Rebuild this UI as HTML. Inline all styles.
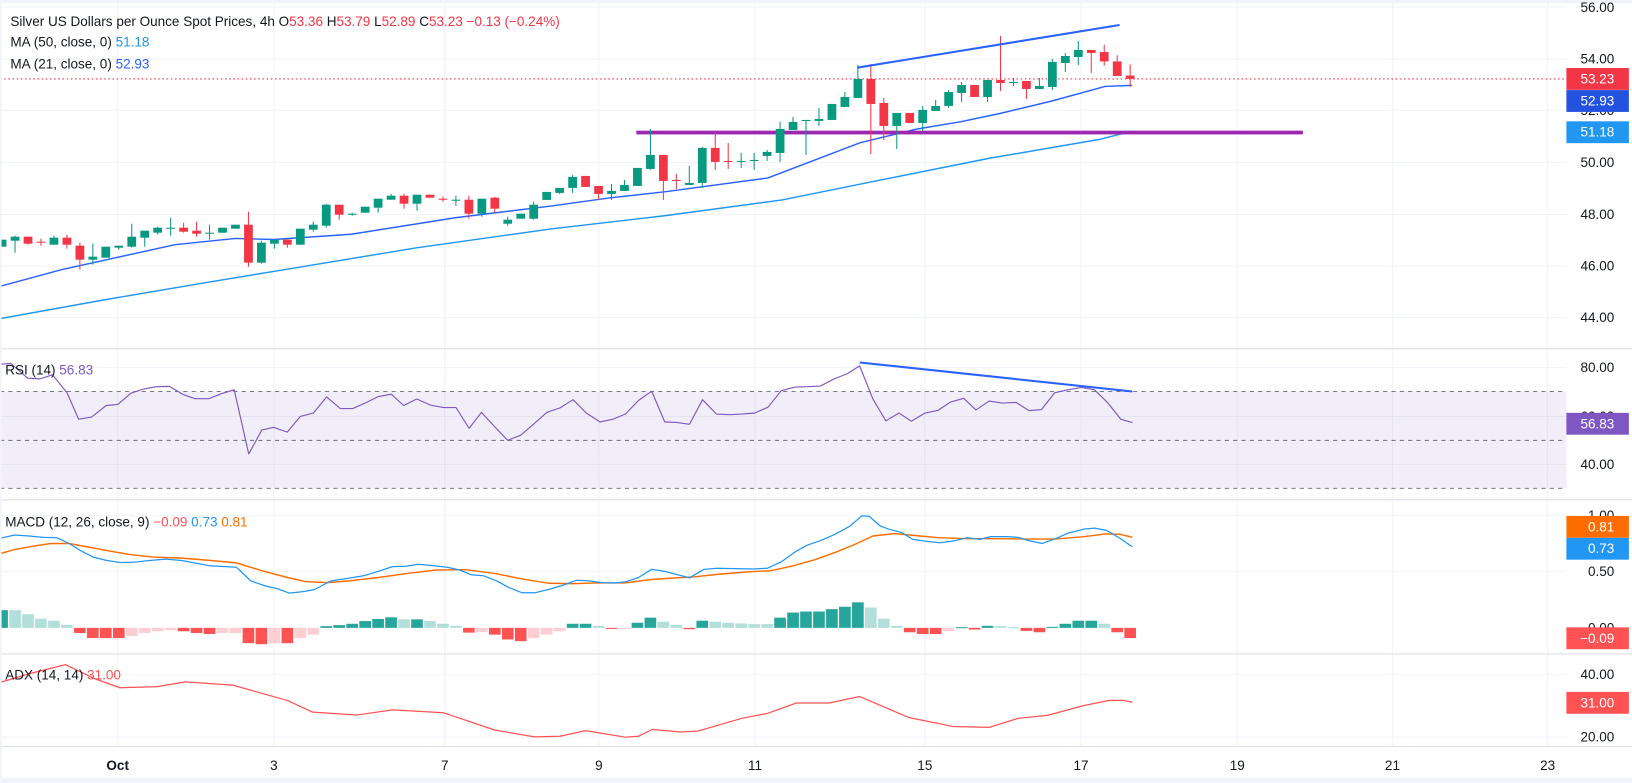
<!DOCTYPE html>
<html><head><meta charset="utf-8">
<style>
html,body{margin:0;padding:0;background:#fff;}
svg{display:block;}
text{font-family:"Liberation Sans",sans-serif;}
</style></head>
<body>
<svg id="c" width="1632" height="783" viewBox="0 0 1567 752" preserveAspectRatio="none" xmlns="http://www.w3.org/2000/svg">
<rect x="0" y="0" width="1567" height="752" fill="#fff"/>
<g id="grid" stroke="#f0f3fa" stroke-width="1"></g>
<!-- RSI band -->
<rect x="0" y="376" width="1504" height="93" fill="#7e57c2" fill-opacity="0.1"/>
<g stroke="#787b86" stroke-width="1" stroke-dasharray="4,4">
<line x1="0" y1="376" x2="1504" y2="376"/>
<line x1="0" y1="423" x2="1504" y2="423"/>
<line x1="0" y1="469" x2="1504" y2="469"/>
</g>
<!-- pane separators -->
<g stroke="#e0e3eb" stroke-width="1.2">
<line x1="0" y1="335" x2="1567" y2="335"/>
<line x1="0" y1="480" x2="1567" y2="480"/>
<line x1="0" y1="628" x2="1567" y2="628"/>
<line x1="0" y1="717" x2="1567" y2="717"/>
</g>
<g id="main"></g>
<g id="ind"></g>
<!-- frame -->
<rect x="0" y="0" width="1567" height="3" fill="#f0f3fa"/>
<rect x="0" y="747" width="1567" height="5" fill="#f0f3fa"/>
<rect x="0" y="0" width="1.5" height="752" fill="#f0f3fa"/>
<g id="txt"></g>
</svg>
<script>
var NS="http://www.w3.org/2000/svg";
function el(p,t,a,txt){var e=document.createElementNS(NS,t);for(var k in a)e.setAttribute(k,a[k]);if(txt!==undefined)e.textContent=txt;document.getElementById(p).appendChild(e);return e;}
// grid
var vx=[113,263,427,575,725,888,1038,1188,1337,1486];
vx.forEach(function(x){el('grid','line',{x1:x,y1:3,x2:x,y2:717});});
[7,56.7,106,156,206,255.5,305, 353,400,446, 495,549, 648,708].forEach(function(y){el('grid','line',{x1:0,y1:y,x2:1504,y2:y});});
// candles
var G="#089981",R="#f23645";
var z1=[[240,247,240,247,'g'],[237,241,236,253,'g'],[237,244,237,245,'r'],[242,243,239,246,'r'],[238,245,236,245,'g'],[238,245,235,249,'r'],[246,260,243,270,'r'],[257,260,244,265,'g'],[247,258,247,258,'g'],[246,248,246,250,'g'],[237,247,224,248,'g'],[231,238,231,247,'g'],[228,233,227,235,'g'],[228,228,218,236,'g'],[228,232,223,233,'r'],[231,234,222,237,'r'],[233,233,225,240,'g'],[228,233,228,233,'g'],[225,229,225,229,'g'],[225,263,212,267,'r'],[243,263,241,264,'g'],[240,244,240,249,'g'],[240,245,240,248,'r'],[229,245,229,245,'g'],[225,230,222,232,'g'],[205,226,204,228,'g'],[205,215,205,220,'r'],[214,214,213,216,'g'],[207,213,207,213,'g'],[199,208,199,213,'g'],[196,200,194,200,'g'],[196,204,194,209,'r'],[195,204,195,211,'g'],[195,198,195,198,'r'],[199,199,197,202,'r'],[200,200,196,206,'g'],[200,214,196,219,'r'],[199,214,199,217,'g'],[198,209,197,213,'r'],[220,224,217,226,'g'],[214,219,214,219,'g'],[205,219,202,220,'g']];
var z2=[[192,200,192,200,'g'],[188,193,188,194,'g'],[177,188,175,193,'g'],[176,187,176,187,'r'],[186,194,186,200,'r'],[191,194,184,200,'g'],[185,191,180,191,'g'],[168,186,168,186,'g'],[155,169,129,170,'g'],[155,181,155,200,'r'],[180,180,174,189,'r'],[183,185,166,185,'g'],[148,183,147,188,'g'],[148,162,132,170,'r'],[161,161,143,169,'r'],[161,161,153,168,'g'],[160,160,153,170,'g'],[152,156,150,161,'g'],[129,153,122,162,'g'],[122,130,117,130,'g'],[120,120,120,155,'g'],[119,121,108,126,'g'],[104,120,104,120,'g'],[97,107,92,107,'g'],[79,98,65,98,'g'],[79,104,64,154,'r'],[103,126,98,140,'r'],[113,126,113,149,'g'],[113,123,113,123,'r'],[110,123,106,131,'g'],[106,111,100,111,'g'],[92,106,90,108,'g'],[85,93,82,102,'g'],[85,97,85,97,'r'],[80,97,80,102,'g'],[80,83,36,91,'r'],[82,82,78,86,'g'],[81,89,81,99,'r'],[86,89,78,89,'g'],[62,87,59,90,'g'],[56,63,53,72,'g'],[50,57,41,65,'g'],[50,53,50,73,'r']];
var C=[];
z1.forEach(function(c){C.push([163+0.96*(c[0]-170),163+0.96*(c[1]-170),163+0.96*(c[2]-170),163+0.96*(c[3]-170),c[4]]);});
z2.forEach(function(c){C.push([19.2+0.96*(c[0]-20),19.2+0.96*(c[1]-20),19.2+0.96*(c[2]-20),19.2+0.96*(c[3]-20),c[4]]);});
C.push([50,59,43,63,'r']);C.push([59,73,53,73,'r']);C.push([72.6,75.8,61.9,83.4,'r']);
// MAs
function pl(p,pts,col,w,extra){var a={points:pts.map(function(q){return q.join(',')}).join(' '),fill:'none',stroke:col,'stroke-width':w,'stroke-linejoin':'round'};for(var k in extra)a[k]=extra[k];el(p,'polyline',a);}
pl('main',[[0,306],[100,288],[200,271],[273,259],[400,238],[528,220],[640,207],[751,192],[850,172],[950,152],[1055,134],[1087,126]],'#2196f3',1.4);
pl('main',[[0,275],[59,259],[168,235],[226,229],[263,230],[337,225],[438,209],[528,198],[586,190],[640,184],[737,171],[826,137],[880,124],[922,117],[960,109],[1010,97],[1061,83],[1087,82]],'#2962ff',1.4);
// purple support
el('main','rect',{x:611,y:125.5,width:640,height:3.6,fill:'#9c27b0'});
// red dotted
el('main','line',{x1:0,y1:75.8,x2:1504,y2:75.8,stroke:'#f23645','stroke-width':1,'stroke-dasharray':'1.5,2.5'});
C.forEach(function(c,i){var x=2+i*12.45;var col=c[4]=='g'?G:R;
 el('main','line',{x1:x,y1:c[2],x2:x,y2:c[3],stroke:col,'stroke-width':1});
 var h=Math.max(1,c[1]-c[0]);el('main','rect',{x:x-4.2,y:c[0],width:8.4,height:h,fill:col});});
// resistance line
el('main','line',{x1:823,y1:65,x2:1075,y2:24,stroke:'#2962ff','stroke-width':2});
// RSI
function tx(zx){return zx/1.432;}
var rsi=[[0,47],[15,45],[38,88],[55,90],[72,78],[92,130],[108,208],[126,202],[146,168],[162,165],[180,132],[197,120],[215,113],[233,112],[252,136],[268,148],[287,148],[305,133],[322,122],[342,310],[360,240],[376,232],[395,246],[413,200],[431,190],[449,143],[468,177],[485,177],[503,160],[520,142],[538,135],[555,168],[573,149],[592,167],[610,174],[627,174],[645,235],[662,188],[680,230],[698,270],[716,255],[734,222],[752,188],[770,175],[788,151],[806,190],[825,216],[843,208],[860,193],[878,153],[896,126],[914,216],[932,218],[948,223],[966,151],[985,193],[1003,195],[1020,193],[1038,190],[1056,173],[1074,125],[1093,114],[1110,113],[1128,111],[1147,90],[1165,75],[1182,52],[1200,148],[1218,213],[1236,190],[1253,214],[1272,190],[1290,182],[1307,158],[1325,147],[1342,181],[1360,155],[1378,161],[1397,159],[1415,183],[1432,180],[1450,131],[1468,122],[1487,115],[1505,122],[1523,160],[1541,208],[1557,218]];
pl('ind',rsi.map(function(q){return [tx(q[0]),376+(q[1]-127)/3.05];}),'#7e57c2',1.1);
el('ind','line',{x1:tx(1182),y1:376+(42-127)/3.05,x2:tx(1557),y2:376+(127-127)/3.05,stroke:'#2962ff','stroke-width':2});
// MACD
function my(zy){return 603+(zy-378)/3.06;}
var hist=[[326,'G'],[326,'g'],[338,'g'],[351,'g'],[357,'g'],[369,'g'],[393,'R'],[408,'R'],[408,'R'],[408,'R'],[402,'p'],[393,'p'],[388,'p'],[385,'p'],[388,'R'],[393,'R'],[396,'R'],[393,'p'],[393,'p'],[423,'R'],[426,'R'],[423,'p'],[423,'R'],[408,'p'],[398,'p'],[373,'G'],[370,'G'],[366,'G'],[358,'G'],[352,'G'],[347,'G'],[353,'g'],[353,'G'],[358,'g'],[366,'g'],[372,'g'],[392,'R'],[390,'p'],[398,'R'],[412,'R'],[417,'R'],[408,'p'],[398,'p'],[388,'p'],[366,'G'],[366,'G'],[372,'g'],[381,'R'],[380,'p'],[363,'G'],[348,'G'],[360,'g'],[369,'g'],[382,'R'],[357,'G'],[360,'g'],[363,'g'],[365,'g'],[367,'g'],[367,'g'],[348,'G'],[333,'G'],[330,'G'],[330,'G'],[323,'G'],[316,'G'],[303,'G'],[318,'g'],[351,'g'],[372,'g'],[391,'R'],[396,'R'],[396,'R'],[388,'p'],[376,'G'],[383,'R'],[372,'G'],[373,'g'],[376,'g'],[387,'R'],[391,'R'],[375,'G'],[366,'G'],[357,'G'],[357,'G'],[366,'g'],[391,'R'],[408,'R']];
var hc={G:'#26a69a',g:'#b2dfdb',R:'#ff5252',p:'#ffcdd2'};
hist.forEach(function(h,i){var x=2+i*12.45;var y=my(h[0]);var y0=603;el('ind','rect',{x:x-5.6,y:Math.min(y,y0),width:11.2,height:Math.max(1,Math.abs(y-y0)),fill:hc[h[1]]});});
var macd=[[0,115],[20,105],[40,108],[60,112],[78,113],[95,130],[110,150],[128,170],[147,180],[165,186],[185,185],[205,180],[228,176],[250,180],[270,188],[290,196],[310,198],[325,200],[345,240],[365,255],[380,262],[398,276],[415,272],[432,266],[455,240],[480,232],[500,225],[520,212],[540,198],[558,197],[575,191],[595,195],[615,200],[632,208],[648,222],[665,225],[683,240],[700,260],[718,275],[735,275],[755,265],[775,252],[793,238],[810,240],[828,245],[845,246],[860,243],[878,230],[896,206],[914,212],[932,222],[948,231],[968,206],[985,203],[1010,204],[1035,205],[1055,203],[1075,183],[1093,155],[1110,135],[1130,120],[1148,103],[1168,80],[1185,49],[1195,50],[1210,78],[1222,88],[1240,98],[1255,118],[1272,123],[1292,128],[1310,123],[1330,113],[1347,118],[1362,110],[1385,110],[1400,112],[1415,122],[1433,130],[1450,117],[1468,100],[1490,88],[1505,85],[1522,92],[1540,115],[1557,140]];
var sig=[[0,160],[20,148],[45,138],[70,130],[95,130],[120,140],[150,152],[180,163],[210,170],[250,173],[290,180],[325,187],[360,210],[395,230],[420,242],[450,245],[480,240],[520,230],[560,218],[600,208],[640,207],[680,218],[720,235],[755,247],[790,248],[820,246],[860,246],[895,236],[930,231],[955,228],[990,220],[1030,213],[1060,210],[1090,196],[1120,178],[1150,155],[1175,133],[1200,108],[1230,101],[1260,107],[1290,113],[1330,116],[1370,116],[1410,117],[1450,117],[1490,110],[1520,102],[1540,103],[1557,112]];
pl('ind',sig.map(function(q){return [tx(q[0]),my(q[1])];}),'#ff6d00',1.4);
pl('ind',macd.map(function(q){return [tx(q[0]),my(q[1])];}),'#2196f3',1.2);
// ADX
var adx=[[0,97],[40,70],[90,42],[130,85],[165,113],[215,110],[255,95],[320,105],[395,152],[430,188],[490,197],[540,181],[610,190],[680,243],[735,264],[770,262],[805,245],[860,265],[878,262],[897,241],[935,249],[960,246],[1020,207],[1055,192],[1095,160],[1140,160],[1182,140],[1250,205],[1310,232],[1360,235],[1400,207],[1440,198],[1490,168],[1525,152],[1545,152],[1557,158]];
pl('ind',adx.map(function(q){return [tx(q[0]),648+(q[1]-73)*60/192];}),'#ff5252',1.2);
// text
function t(x,y,s,col,size,anchor,weight){var a={x:x,y:y,fill:col,'font-size':size||13,'dominant-baseline':'central'};if(anchor)a['text-anchor']=anchor;if(weight)a['font-weight']=weight;return el('txt','text',a,s);}
function rich(x,y,parts,size){var e=el('txt','text',{x:x,y:y,'font-size':size||13,'dominant-baseline':'central'});parts.forEach(function(p){var s=document.createElementNS(NS,'tspan');s.setAttribute('fill',p[1]);s.textContent=p[0];e.appendChild(s);});}
rich(10,20,[['Silver US Dollars per Ounce Spot Prices, 4h  O','#131722'],['53.36','#f23645'],['  H','#131722'],['53.79','#f23645'],['  L','#131722'],['52.89','#f23645'],['  C','#131722'],['53.23 \u22120.13 (\u22120.24%)','#f23645']]);
rich(10,40,[['MA (50, close, 0)  ','#131722'],['51.18','#2196f3']]);
rich(10,61,[['MA (21, close, 0)  ','#131722'],['52.93','#2962ff']]);
rich(5,355,[['RSI (14)  ','#131722'],['56.83','#7e57c2']]);
rich(5,501,[['MACD (12, 26, close, 9)  ','#131722'],['\u22120.09','#ff5252'],['  0.73','#2196f3'],['  0.81','#ff6d00']]);
rich(5,648,[['ADX (14, 14)  ','#131722'],['31.00','#ff5252']]);
// axis labels
[[7,'56.00'],[56.7,'54.00'],[106,'52.00'],[156,'50.00'],[206,'48.00'],[255.5,'46.00'],[305,'44.00'],[353,'80.00'],[400,'60.00'],[446,'40.00'],[495,'1.00'],[549,'0.50'],[603,'0.00'],[648,'40.00'],[708,'20.00']].forEach(function(a){t(1550,a[0],a[1],'#131722',13,'end');});
function badge(y,s,bg){el('txt','rect',{x:1504,y:y-10.5,width:60,height:21,fill:bg});t(1550,y,s,'#fff',13,'end');}
badge(75.8,'53.23','#f23645');badge(97,'52.93','#2452e0');badge(127,'51.18','#2196f3');
badge(407,'56.83','#7e57c2');
badge(506,'0.81','#ff6d00');badge(527,'0.73','#2196f3');badge(613,'\u22120.09','#ff5252');
badge(675,'31.00','#ff5252');
[[113,'Oct',1],[263,'3'],[427,'7'],[575,'9'],[725,'11'],[888,'15'],[1038,'17'],[1188,'19'],[1337,'21'],[1486,'23']].forEach(function(a){t(a[0],735,a[1],'#131722',13,'middle',a[2]?'bold':null);});
</script>
</body></html>
